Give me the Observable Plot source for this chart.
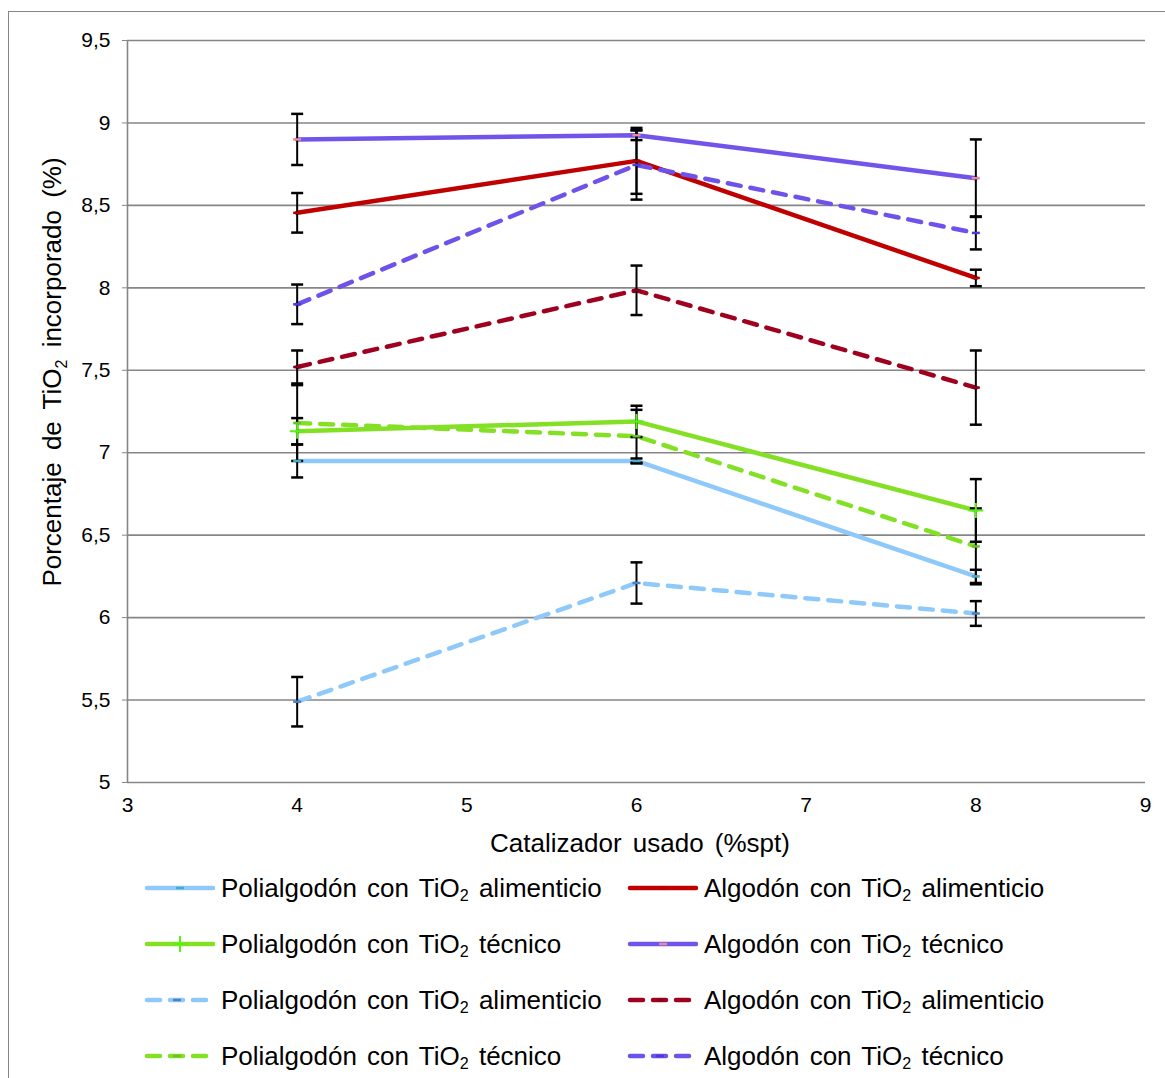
<!DOCTYPE html>
<html lang="es">
<head>
<meta charset="utf-8">
<script src="https://cdn.jsdelivr.net/npm/d3@7"></script>
<script src="https://cdn.jsdelivr.net/npm/@observablehq/plot@0.6"></script>
<style>
  html, body { margin: 0; padding: 0; background: #fff; overflow: hidden; }
  body { width: 1165px; height: 1078px; position: relative; font-family: "Liberation Sans", Arial, sans-serif; }
  #frame { position: absolute; left: 8px; top: 11px; width: 1200px; height: 1200px; border: 1.5px solid #868686; box-sizing: border-box; }
  #chart { position: absolute; left: 0; top: 0; }
  #legend { position: absolute; left: 143px; top: 860px; display: grid; grid-template-columns: 483px 480px; grid-auto-rows: 56px; }
  .item { display: flex; align-items: center; font-size: 26px; word-spacing: 3px; color: #000; white-space: nowrap; }
  .item svg { margin-right: 6px; flex: none; }
  .item sub { font-size: 0.62em; vertical-align: -0.25em; line-height: 0; }
</style>
</head>
<body>
<div id="frame"></div>
<div id="chart"></div>
<div id="legend"></div>
<script>
// Catalyst used (% spt) and the measured TiO2 incorporation for each fabric / TiO2 grade.
const catalizador = [4, 6, 8];

const polialgodonAlimenticio = [6.95, 6.95, 6.25];
const polialgodonAlimenticioErr = [0.1, 0.015, 0.04];
const algodonAlimenticio = [8.455, 8.77, 8.06];
const algodonAlimenticioErr = [0.12, 0.2, 0.05];
const polialgodonTecnico = [7.13, 7.19, 6.65];
const polialgodonTecnicoErr = [0.08, 0.095, 0.19];
const algodonTecnico = [8.9, 8.926, 8.665];
const algodonTecnicoErr = [0.155, 0.03, 0.235];

const polialgodonAlimenticio2 = [5.49, 6.21, 6.025];
const polialgodonAlimenticio2Err = [0.15, 0.125, 0.075];
const algodonAlimenticio2 = [7.52, 7.985, 7.395];
const algodonAlimenticio2Err = [0.1, 0.15, 0.225];
const polialgodonTecnico2 = [7.18, 7.1, 6.432];
const polialgodonTecnico2Err = [0.23, 0.16, 0.23];
const algodonTecnico2 = [7.9, 8.745, 8.333];
const algodonTecnico2Err = [0.12, 0.21, 0.1];

const tejidos = ["Polialgodón", "Algodón", "Polialgodón", "Algodón", "Polialgodón", "Algodón", "Polialgodón", "Algodón"];
const grados = ["alimenticio", "alimenticio", "técnico", "técnico", "alimenticio", "alimenticio", "técnico", "técnico"];
const valores = [polialgodonAlimenticio, algodonAlimenticio, polialgodonTecnico, algodonTecnico,
                 polialgodonAlimenticio2, algodonAlimenticio2, polialgodonTecnico2, algodonTecnico2];
const errores = [polialgodonAlimenticioErr, algodonAlimenticioErr, polialgodonTecnicoErr, algodonTecnicoErr,
                 polialgodonAlimenticio2Err, algodonAlimenticio2Err, polialgodonTecnico2Err, algodonTecnico2Err];
const discontinua = [false, false, false, false, true, true, true, true];
const colores = ["#8ec9f9", "#c00000", "#84e025", "#7354ea", "#8ec9f9", "#a00020", "#84e025", "#6f52ea"];
const coloresMarcador = ["#4bacc6", "#b00000", "#5cf01a", "#e58c9c", "#4f81bd", "#84001a", "#6cc030", "#4a3bd6"];
const marcadores = ["dash", "dash", "plus", "dash", "dash", "dash", "dash", "dash"];

const xTicks = [3, 4, 5, 6, 7, 8, 9];
const yTicks = [5, 5.5, 6, 6.5, 7, 7.5, 8, 8.5, 9, 9.5];

const GRID = "#868686";
const DASH = "13,10";

// Stroke-only symbols: a short horizontal bar (markers, error-bar caps) and a plus sign.
const symDash = { draw(ctx, size) { const r = Math.sqrt(size / Math.PI); ctx.moveTo(-r, 0); ctx.lineTo(r, 0); } };
const symPlus = { draw(ctx, size) { const r = Math.sqrt(size / Math.PI); ctx.moveTo(-r, 0); ctx.lineTo(r, 0); ctx.moveTo(0, -r); ctx.lineTo(0, r); } };

const filas = valores.flatMap((vals, s) => vals.map((v, i) => ({
  serie: s, x: catalizador[i], y: v, lo: v - errores[s][i], hi: v + errores[s][i]
})));

const marks = [
  Plot.gridY(yTicks, { stroke: GRID, strokeOpacity: 1, strokeWidth: 1.6 }),
  Plot.ruleX([3], { stroke: GRID, strokeWidth: 1.6 }),
  Plot.axisY({ ticks: yTicks, tickFormat: d => String(d).replace(".", ","), tickSize: 5, tickPadding: 12,
               fontSize: 21, label: null, stroke: GRID }),
  Plot.axisX({ ticks: xTicks, tickFormat: d => String(d), tickSize: 0, tickPadding: 15, fontSize: 21, label: null })
];

// Lines, in series order so later series sit on top.
valores.forEach((_, s) => {
  marks.push(Plot.line(filas.filter(d => d.serie === s), {
    x: "x", y: "y", stroke: colores[s], strokeWidth: 4.5, strokeLinecap: "round", strokeLinejoin: "round",
    strokeDasharray: discontinua[s] ? DASH : null
  }));
});

// Error bars with caps.
marks.push(Plot.ruleX(filas, { x: "x", y1: "lo", y2: "hi", stroke: "#000", strokeWidth: 2 }));
marks.push(Plot.dot(filas, { x: "x", y: "lo", symbol: symDash, r: 6, stroke: "#000", strokeWidth: 2.5, fill: "none" }));
marks.push(Plot.dot(filas, { x: "x", y: "hi", symbol: symDash, r: 6, stroke: "#000", strokeWidth: 2.5, fill: "none" }));

// Point markers.
valores.forEach((_, s) => {
  const plus = marcadores[s] === "plus";
  marks.push(Plot.dot(filas.filter(d => d.serie === s), {
    x: "x", y: "y", symbol: plus ? symPlus : symDash, r: plus ? 7.5 : 4,
    stroke: coloresMarcador[s], strokeWidth: plus ? 2 : 2.5, fill: "none"
  }));
});

const chart = Plot.plot({
  width: 1165,
  height: 870,
  marginLeft: 127,
  marginRight: 20,
  marginTop: 40,
  marginBottom: 88,
  style: { fontFamily: "'Liberation Sans', Arial, sans-serif", color: "#000", background: "transparent", overflow: "visible" },
  x: { domain: [3, 9] },
  y: { domain: [5, 9.5] },
  marks
});
document.getElementById("chart").append(chart);

// Axis titles (the y title carries a subscript).
const svg = d3.select(chart);
svg.append("text")
  .attr("x", 640).attr("y", 852)
  .attr("text-anchor", "middle")
  .attr("font-size", 26)
  .attr("word-spacing", 4)
  .attr("fill", "#000")
  .text("Catalizador usado (%spt)");
const yt = svg.append("text")
  .attr("transform", "translate(61,372) rotate(-90)")
  .attr("text-anchor", "middle")
  .attr("font-size", 26)
  .attr("word-spacing", 5)
  .attr("fill", "#000");
yt.append("tspan").text("Porcentaje de TiO");
yt.append("tspan").attr("font-size", 16).attr("dy", 6).text("2");
yt.append("tspan").attr("dy", -6).text(" incorporado (%)");

// Legend: two columns, row-major in series order.
const legend = document.getElementById("legend");
valores.forEach((_, s) => {
  const item = document.createElement("div");
  item.className = "item";
  const ns = "http://www.w3.org/2000/svg";
  const sw = document.createElementNS(ns, "svg");
  sw.setAttribute("width", 72); sw.setAttribute("height", 20);
  const ln = document.createElementNS(ns, "line");
  ln.setAttribute("x1", 4); ln.setAttribute("x2", discontinua[s] ? 64 : 70);
  ln.setAttribute("y1", 10); ln.setAttribute("y2", 10);
  ln.setAttribute("stroke", colores[s]); ln.setAttribute("stroke-width", 4.5);
  ln.setAttribute("stroke-linecap", "round");
  if (discontinua[s]) ln.setAttribute("stroke-dasharray", DASH);
  sw.append(ln);
  const mk = document.createElementNS(ns, "path");
  const cx = discontinua[s] ? 34 : 37;
  mk.setAttribute("d", marcadores[s] === "plus"
    ? `M${cx - 7},10H${cx + 7}M${cx},2V18` : `M${cx - 4},10H${cx + 4}`);
  mk.setAttribute("stroke", coloresMarcador[s]); mk.setAttribute("stroke-width", marcadores[s] === "plus" ? 2 : 2.5);
  sw.append(mk);
  item.append(sw);
  const t = document.createElement("span");
  t.innerHTML = `${tejidos[s]} con TiO<sub>2</sub> ${grados[s]}`;
  item.append(t);
  legend.append(item);
});
</script>
</body>
</html>
